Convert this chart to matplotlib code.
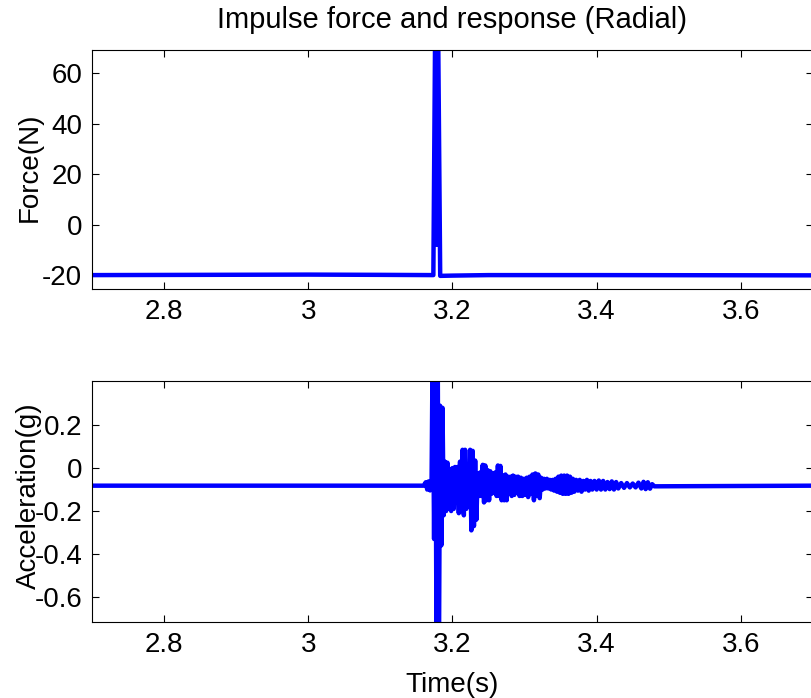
import matplotlib.pyplot as plt

plt.rcParams['font.family'] = ['Liberation Sans', 'DejaVu Sans']
plt.rcParams['axes.unicode_minus'] = False

# impulse hammer force (N)
force_t = [2.700, 3.000, 3.100, 3.1735, 3.1768, 3.1780, 3.1792, 3.1830, 3.200, 3.250, 3.400, 3.700]
force_v = [-20.0, -19.8, -19.9, -20.0, 110.0, -8.0, 110.0, -20.3, -20.2, -20.0, -20.0, -20.1]

# accelerometer response (g)
acc_t = [
    2.700, 3.160, 3.1630, 3.1650, 3.1670, 3.1690, 3.1710,
    3.1726, 3.1745, 3.1762, 3.1780, 3.1795, 3.1812, 3.1828, 3.1845, 3.1862, 3.1878,
    3.1895, 3.1912, 3.1930, 3.1948, 3.1965, 3.1982, 3.2000, 3.2018, 3.2035, 3.2052,
    3.2070, 3.2088, 3.2105, 3.2122, 3.2140, 3.2158, 3.2175, 3.2192, 3.2210, 3.2228,
    3.2245, 3.2262, 3.2280, 3.2298, 3.2315, 3.2332, 3.2350, 3.2368, 3.2385, 3.2402,
    3.2420, 3.2438, 3.2455, 3.2472, 3.2490, 3.2508, 3.2525, 3.2542, 3.2560, 3.2578,
    3.2595, 3.2612, 3.2630, 3.2648, 3.2665, 3.2682, 3.2700, 3.2718, 3.2735, 3.2752,
    3.2770, 3.2788, 3.2805, 3.2822, 3.2840, 3.2858, 3.2875, 3.2892, 3.2910, 3.2930,
    3.2950, 3.2970, 3.2990, 3.3010, 3.3030, 3.3050, 3.3070, 3.3090, 3.3110, 3.3130,
    3.3150, 3.3170, 3.3190, 3.3210, 3.3230, 3.3250, 3.3270, 3.3290, 3.3310, 3.3330,
    3.3350, 3.3370, 3.3390, 3.3410, 3.3430, 3.3450, 3.3470, 3.3490, 3.3510, 3.3530,
    3.3550, 3.3570, 3.3590, 3.3610, 3.3630, 3.3650, 3.3670, 3.3690, 3.3715, 3.3740,
    3.3765, 3.3790, 3.3815, 3.3840, 3.3865, 3.3890, 3.3915, 3.3940, 3.3970, 3.4000,
    3.4030, 3.4060, 3.4090, 3.4120, 3.4150, 3.4180, 3.4210, 3.4240, 3.4270, 3.4300,
    3.4340, 3.4380, 3.4420, 3.4460, 3.4500, 3.4540, 3.4580, 3.4620, 3.4650, 3.4680,
    3.4710, 3.4740, 3.4770, 3.4800, 3.700,
]
acc_v = [
    -0.082, -0.082, -0.066, -0.100, -0.062, -0.104, -0.070,
    0.60, -0.33, 0.60, -0.95, 0.60, -0.95, 0.29, -0.36, 0.28, -0.22,
    0.03, -0.20, 0.025, -0.19, -0.005, -0.20, 0.00, -0.19, 0.005, -0.16,
    0.005, -0.21, 0.03, -0.20, 0.085, -0.22, 0.085, -0.19, -0.005, -0.18,
    0.085, -0.29, 0.08, -0.27, 0.035, -0.24, -0.025, -0.13, -0.02, -0.13,
    0.015, -0.16, 0.012, -0.15, -0.01, -0.15, -0.015, -0.12, -0.025, -0.115,
    -0.02, -0.13, 0.012, -0.13, 0.01, -0.15, -0.035, -0.15, -0.03, -0.15,
    -0.04, -0.12, -0.04, -0.13, -0.035, -0.125, -0.04, -0.115, -0.04, -0.13,
    -0.045, -0.13, -0.05, -0.125, -0.045, -0.135, -0.04, -0.12, -0.03, -0.15,
    -0.025, -0.13, -0.03, -0.14, -0.045, -0.10, -0.05, -0.095, -0.05, -0.095,
    -0.055, -0.10, -0.055, -0.105, -0.05, -0.11, -0.04, -0.115, -0.035, -0.12,
    -0.035, -0.12, -0.035, -0.12, -0.04, -0.115, -0.05, -0.11, -0.055, -0.105,
    -0.055, -0.11, -0.06, -0.10, -0.055, -0.105, -0.06, -0.10, -0.06, -0.10,
    -0.058, -0.10, -0.06, -0.10, -0.065, -0.098, -0.062, -0.10, -0.065, -0.095,
    -0.07, -0.092, -0.07, -0.09, -0.072, -0.09, -0.068, -0.095, -0.064, -0.098,
    -0.066, -0.096, -0.075, -0.085, -0.082,
]

xticks = [2.8, 3.0, 3.2, 3.4, 3.6]
xticklabels = ['2.8', '3', '3.2', '3.4', '3.6']

fig = plt.figure(figsize=(8.11, 6.98), dpi=100)
ax1 = fig.add_axes([0.1134, 0.586, 0.889, 0.3424])
ax2 = fig.add_axes([0.1134, 0.1089, 0.889, 0.3453])

ax1.plot(force_t, force_v, color='#0000ff', lw=3.2)
ax1.set_xlim(2.7, 3.7)
ax1.set_ylim(-25.5, 69.3)
ax1.set_yticks([-20, 0, 20, 40, 60])
ax1.set_ylabel('Force(N)', fontsize=20)
ax1.yaxis.set_label_coords(-0.068, 0.51)
ax1.set_title('Impulse force and response (Radial)', fontsize=21, pad=16)

ax2.plot(acc_t, acc_v, color='#0000ff', lw=3.2)
ax2.set_xlim(2.7, 3.7)
ax2.set_ylim(-0.716, 0.405)
ax2.set_yticks([-0.6, -0.4, -0.2, 0, 0.2])
ax2.set_yticklabels(['-0.6', '-0.4', '-0.2', '0', '0.2'])
ax2.set_ylabel('Acceleration(g)', fontsize=20)
ax2.yaxis.set_label_coords(-0.07, 0.525)
ax2.set_xlabel('Time(s)', fontsize=20, labelpad=10)

for ax in (ax1, ax2):
    ax.set_xticks(xticks)
    ax.set_xticklabels(xticklabels)
    ax.tick_params(direction='in', top=True, right=True, length=5, width=0.8,
                   labelsize=20, pad=7)
    for s in ax.spines.values():
        s.set_linewidth(0.8)

fig.savefig('out.png', dpi=100)
